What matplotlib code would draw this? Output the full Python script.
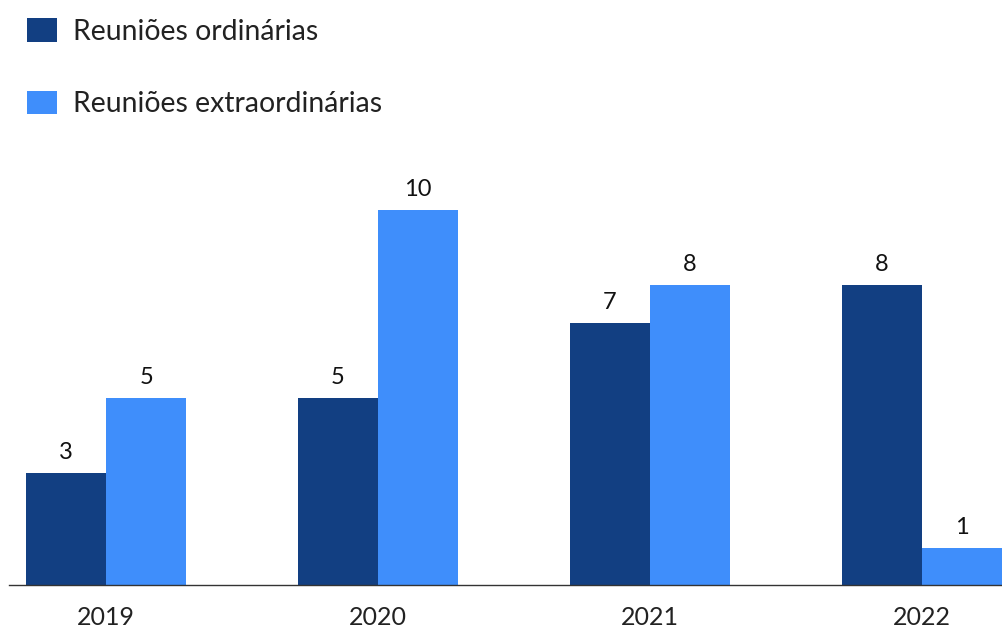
import numpy as np
import matplotlib.pyplot as plt

years = ['2019', '2020', '2021', '2022']
ordinarias = [3, 5, 7, 8]
extraordinarias = [5, 10, 8, 1]

plt.rcParams['font.family'] = ['Lato', 'DejaVu Sans']

fig = plt.figure(figsize=(10.02, 6.27), dpi=100)
ax = fig.add_axes([9 / 1002, 42 / 627, 993 / 1002, 450 / 627])

x = np.arange(len(years))
w = 0.295
b1 = ax.bar(x - w / 2, ordinarias, w, color='#123F82', label='Reuniões ordinárias')
b2 = ax.bar(x + w / 2, extraordinarias, w, color='#3F8EFB', label='Reuniões extraordinárias')

ax.bar_label(b1, padding=7, fontsize=17, color='#111111')
ax.bar_label(b2, padding=7, fontsize=17, color='#111111')

ax.set_xlim(-0.357, 3.294)
ax.set_ylim(0, 12)
ax.set_xticks(x)
ax.set_xticklabels(years, fontsize=18, color='#222222')
ax.tick_params(axis='x', length=0, pad=15)
ax.set_yticks([])
for s in ['top', 'right', 'left']:
    ax.spines[s].set_visible(False)
ax.spines['bottom'].set_color('#333333')
ax.spines['bottom'].set_linewidth(1.0)

fig.legend(loc='upper left', bbox_to_anchor=(27 / 1002, 1 - 18 / 627), frameon=False,
           fontsize=20.4, handlelength=1.06, handleheight=0.92, handletextpad=0.58,
           labelspacing=1.62, borderpad=0, borderaxespad=0, labelcolor='#222222')

fig.savefig('out.png', dpi=100)
